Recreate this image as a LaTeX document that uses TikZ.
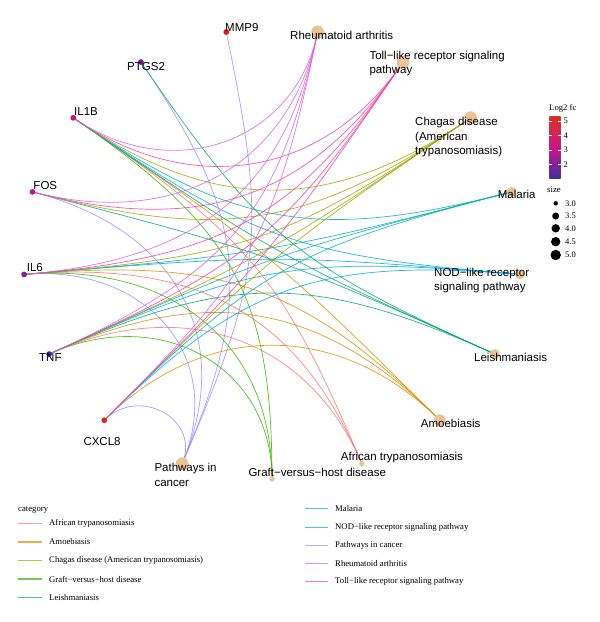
\documentclass[tikz,border=0pt]{standalone}
\usepackage{fontspec}
\setmainfont{Liberation Serif}
\newfontfamily\labfont{Liberation Sans}
\usetikzlibrary{calc}
\definecolor{cAfr}{HTML}{F8766D}
\definecolor{cAmo}{HTML}{D89000}
\definecolor{cCha}{HTML}{A3A500}
\definecolor{cGvh}{HTML}{39B600}
\definecolor{cLei}{HTML}{00A870}
\definecolor{cMal}{HTML}{00AFB4}
\definecolor{cNod}{HTML}{00A8EE}
\definecolor{cPic}{HTML}{9590FF}
\definecolor{cRa}{HTML}{D860E0}
\definecolor{cTol}{HTML}{F0409F}
\definecolor{catc}{RGB}{232,196,150}
\definecolor{lowc}{HTML}{3B2F9E}
\definecolor{midc}{HTML}{C4168F}
\definecolor{highc}{HTML}{DC3223}
\definecolor{gMMP9}{HTML}{D81E22}
\definecolor{gCXCL8}{HTML}{D82A20}
\definecolor{gIL1B}{HTML}{CE1278}
\definecolor{gFOS}{HTML}{C8128A}
\definecolor{gPTGS2}{HTML}{7A2290}
\definecolor{gIL6}{HTML}{80248F}
\definecolor{gTNF}{HTML}{35309A}
\newcommand\edg[4]{\draw[ed,draw=#4] (#1) .. controls ($(ctr)!#3!(#1)$) and ($(ctr)!#3!(#2)$) .. (#2);}
\begin{document}
\begin{tikzpicture}[x=1pt,y=-1pt,
  ed/.style={line width=0.7pt,draw opacity=0.85},
  gdot/.style={circle,inner sep=0pt,minimum size=5.8pt},
  cdot/.style={circle,inner sep=0pt,fill=catc},
  lab/.style={font=\labfont\fontsize{11.5}{14.5}\selectfont,inner sep=0pt,align=left,anchor=base west},
  leg/.style={font=\fontsize{8.7}{10}\selectfont,inner sep=0pt,anchor=west},
  lk/.style={line width=1.1pt,draw opacity=0.7},
  sdot/.style={circle,inner sep=0pt,fill=black}]
\useasboundingbox (0,0) rectangle (600,622);
\fill[white] (0,0) rectangle (600,622);
% layout
\coordinate (ctr) at (272,253.6);
\coordinate (Gvh) at (272,479.0);
\coordinate (Afr) at (361.9,463.8);
\coordinate (Amo) at (439.7,420.2);
\coordinate (Lei) at (494.9,354.1);
\coordinate (Nod) at (519.9,274.4);
\coordinate (Mal) at (511.5,191.9);
\coordinate (Cha) at (470.7,117.8);
\coordinate (Tol) at (403.1,62.0);
\coordinate (Ra) at (317.7,32.0);
\coordinate (MMP9) at (226.3,32.0);
\coordinate (PTGS2) at (140.9,62.0);
\coordinate (IL1B) at (73.3,117.8);
\coordinate (FOS) at (32.5,191.9);
\coordinate (IL6) at (24.1,274.4);
\coordinate (TNF) at (49.1,354.1);
\coordinate (CXCL8) at (104.3,420.2);
\coordinate (Pic) at (182.1,463.8);
% edges
\edg{MMP9}{Pic}{0.10}{cPic}
\edg{PTGS2}{Pic}{0.19}{cPic}
\edg{FOS}{Pic}{0.40}{cPic}
\edg{IL6}{Pic}{0.50}{cPic}
\edg{CXCL8}{Pic}{0.79}{cPic}
\edg{IL1B}{Gvh}{0.19}{cGvh}
\edg{IL6}{Gvh}{0.40}{cGvh}
\edg{TNF}{Gvh}{0.50}{cGvh}
\edg{IL1B}{Afr}{0.10}{cAfr}
\edg{IL6}{Afr}{0.29}{cAfr}
\edg{TNF}{Afr}{0.40}{cAfr}
\edg{IL1B}{Amo}{0.03}{cAmo}
\edg{IL6}{Amo}{0.19}{cAmo}
\edg{TNF}{Amo}{0.29}{cAmo}
\edg{CXCL8}{Amo}{0.40}{cAmo}
\edg{PTGS2}{Lei}{0.10}{cLei}
\edg{IL1B}{Lei}{0.03}{cLei}
\edg{FOS}{Lei}{0.03}{cLei}
\edg{TNF}{Lei}{0.19}{cLei}
\edg{IL1B}{Nod}{0.10}{cNod}
\edg{IL6}{Nod}{0.03}{cNod}
\edg{TNF}{Nod}{0.10}{cNod}
\edg{CXCL8}{Nod}{0.19}{cNod}
\edg{IL1B}{Mal}{0.19}{cMal}
\edg{IL6}{Mal}{0.03}{cMal}
\edg{TNF}{Mal}{0.03}{cMal}
\edg{CXCL8}{Mal}{0.10}{cMal}
\edg{IL1B}{Cha}{0.29}{cCha}
\edg{FOS}{Cha}{0.19}{cCha}
\edg{IL6}{Cha}{0.10}{cCha}
\edg{TNF}{Cha}{0.03}{cCha}
\edg{CXCL8}{Cha}{0.03}{cCha}
\edg{IL1B}{Tol}{0.40}{cTol}
\edg{FOS}{Tol}{0.29}{cTol}
\edg{IL6}{Tol}{0.19}{cTol}
\edg{TNF}{Tol}{0.10}{cTol}
\edg{CXCL8}{Tol}{0.03}{cTol}
\edg{IL1B}{Ra}{0.50}{cRa}
\edg{FOS}{Ra}{0.40}{cRa}
\edg{IL6}{Ra}{0.29}{cRa}
\edg{TNF}{Ra}{0.19}{cRa}
\edg{CXCL8}{Ra}{0.10}{cRa}
% category dots
\node[cdot,minimum size=13pt] (dRa) at (Ra) {};
\node[cdot,minimum size=13pt] (dTol) at (Tol) {};
\node[cdot,minimum size=13pt] (dCha) at (Cha) {};
\node[cdot,minimum size=10pt] (dMal) at (Mal) {};
\node[cdot,minimum size=10pt] (dNod) at (Nod) {};
\node[cdot,minimum size=10pt] (dLei) at (Lei) {};
\node[cdot,minimum size=12pt] (dAmo) at (Amo) {};
\node[cdot,minimum size=5.5pt] (dAfr) at (Afr) {};
\node[cdot,minimum size=5.5pt] (dGvh) at (Gvh) {};
\node[cdot,minimum size=13pt] (dPic) at (Pic) {};
% gene dots
\node[gdot,fill=gMMP9] (dMMP9) at (MMP9) {};
\node[gdot,fill=gPTGS2] (dPTGS2) at (PTGS2) {};
\node[gdot,fill=gIL1B] (dIL1B) at (IL1B) {};
\node[gdot,fill=gFOS] (dFOS) at (FOS) {};
\node[gdot,fill=gIL6] (dIL6) at (IL6) {};
\node[gdot,fill=gTNF] (dTNF) at (TNF) {};
\node[gdot,fill=gCXCL8] (dCXCL8) at (CXCL8) {};
% labels (base = baseline of last line)
\node[lab] (tMMP9) at (225,31) {MMP9};
\node[lab] (tPTGS2) at (127,70) {PTGS2};
\node[lab] (tIL1B) at (74,115.7) {IL1B};
\node[lab] (tFOS) at (33.3,189.3) {FOS};
\node[lab] (tIL6) at (26.7,271.7) {IL6};
\node[lab] (tTNF) at (39,361.7) {TNF};
\node[lab] (tCXCL8) at (83.3,445) {CXCL8};
\node[lab] (tPic) at (154.3,486.2) {Pathways in\\cancer};
\node[lab] (tGvh) at (248.3,476) {Graft−versus−host disease};
\node[lab] (tAfr) at (340.7,460.7) {African trypanosomiasis};
\node[lab] (tAmo) at (420.7,427.3) {Amoebiasis};
\node[lab] (tLei) at (474,361.7) {Leishmaniasis};
\node[lab] (tNod) at (434,290.5) {NOD−like receptor\\signaling pathway};
\node[lab] (tMal) at (497.7,198.3) {Malaria};
\node[lab] (tCha) at (415,154.7) {Chagas disease\\(American\\trypanosomiasis)};
\node[lab] (tTol) at (369.3,73.5) {Toll−like receptor signaling\\pathway};
\node[lab] (tRa) at (290,39.3) {Rheumatoid arthritis};
% colour bar
\node[leg] (tLog) at (549,108) {Log2 fc};
\shade[bottom color=lowc,top color=midc] (549.3,178.8) rectangle (560.7,149.5);
\shade[bottom color=midc,top color=highc] (549.3,150) rectangle (560.7,116.7);
\foreach \v/\t in {164.3/2,149.8/3,135.2/4,120.7/5}{
  \draw[white,line width=0.4pt] (549.3,\v) -- (551.6,\v) (558.4,\v) -- (560.7,\v);
  \node[leg,font=\fontsize{8.5}{10}\selectfont] at (563.5,\v) {\t};
}
% size legend
\node[leg] (tSize) at (547,190) {size};
\foreach \yy/\r/\t in {203.3/2.2/3.0,216/3.5/3.5,228.3/4.2/4.0,241.7/4.7/4.5,255/5.2/5.0}{
  \fill (555.7,\yy) circle[radius=\r];
  \node[leg,font=\fontsize{8.5}{10}\selectfont] at (565,\yy) {\t};
}
% category legend
\node[leg] (tCat) at (18,509.5) {category};
\foreach \yy/\c/\t in {523.3/cAfr/African trypanosomiasis,542/cAmo/Amoebiasis,560.7/cCha/Chagas disease (American trypanosomiasis),579/cGvh/Graft−versus−host disease,597.7/cLei/Leishmaniasis}{
  \draw[lk,draw=\c] (18,\yy) -- (42,\yy);
  \node[leg] at (49,\yy) {\t};
}
\foreach \yy/\c/\t in {508.3/cMal/Malaria,527.3/cNod/NOD−like receptor signaling pathway,545.3/cPic/Pathways in cancer,563.3/cRa/Rheumatoid arthritis,581.7/cTol/Toll−like receptor signaling pathway}{
  \draw[lk,draw=\c] (305,\yy) -- (328,\yy);
  \node[leg] at (335,\yy) {\t};
}
\end{tikzpicture}
\end{document}
